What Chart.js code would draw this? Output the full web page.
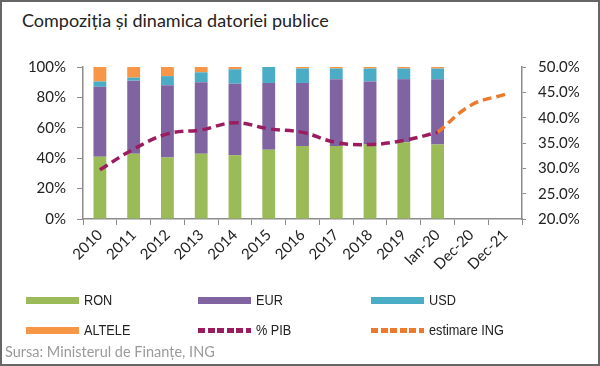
<!DOCTYPE html>
<html>
<head>
<meta charset="utf-8">
<script src="https://cdn.jsdelivr.net/npm/chart.js@4"></script>
<style>
  html, body { margin: 0; padding: 0; background: #fff; }
  #wrap { position: relative; width: 600px; height: 366px; box-sizing: border-box; border: 2px solid #666; overflow: hidden; }
  #title { position: absolute; left: 20px; top: 7px; font-family: Lato, sans-serif; font-size: 18px; color: #222; }
  canvas { position: absolute; left: -2px; top: -2px; }
  .leg { position: absolute; font-family: "Liberation Sans", Arial, sans-serif; font-size: 15.5px; color: #222;
         transform: scaleX(0.82); transform-origin: left center; white-space: nowrap; }
  .sw { position: absolute; width: 53px; height: 7px; }
  #src { position: absolute; left: 3px; top: 341px; font-family: Lato, sans-serif; font-size: 14.5px; color: #9a9a9a; }
</style>
</head>
<body>
<div id="wrap">
  <div id="title">Compoziția și dinamica datoriei publice</div>
  <canvas id="chart-area" width="600" height="366"></canvas>
  <div id="legend"></div>
  <div id="src">Sursa: Ministerul de Finanțe, ING</div>
</div>
<script>
var labels = ["2010", "2011", "2012", "2013", "2014", "2015", "2016", "2017", "2018", "2019", "Ian-20", "Dec-20", "Dec-21"];
var ron    = [41, 43, 40.5, 43, 42, 45.5, 48, 48, 49, 50.5, 49, null, null];
var eur    = [46, 48, 47.5, 47, 47, 44, 41.5, 44, 41.5, 41.5, 43, null, null];
var usd    = [3.5, 2, 6, 6.5, 9.5, 10.5, 9.5, 7, 8.5, 7, 7, null, null];
var altele = [9.5, 7, 6, 3.5, 1.5, 0, 1, 1, 1, 1, 1, null, null];
var pib    = [29.7, 33.8, 36.8, 37.6, 39.0, 37.8, 37.1, 35.1, 34.7, 35.5, 37.1, null, null];
var estimare = [null, null, null, null, null, null, null, null, null, null, 37.1, 42.5, 44.6];

var green = "#9bbb59", purple = "#8064a2", blue = "#4bacc6", orange = "#f79646";
var pibColor = "#9b1d5f", ingColor = "#ec7a2c";
var axisColor = "#8c8c8c";
var tickFont = { family: "Lato", size: 15 };

function bar(label, data, color) {
  return { type: 'bar', label: label, data: data, backgroundColor: color, yAxisID: 'y', order: 1,
           barPercentage: 0.38, categoryPercentage: 1 };
}
function line(label, data, color) {
  return { type: 'line', label: label, data: data, borderColor: color, backgroundColor: color,
           borderWidth: 3.5, borderDash: [9, 5], tension: 0.4, pointRadius: 0, yAxisID: 'y1', order: 0,
           spanGaps: false };
}

var config = {
  type: 'bar',
  data: {
    labels: labels,
    datasets: [
      bar("RON", ron, green),
      bar("EUR", eur, purple),
      bar("USD", usd, blue),
      bar("ALTELE", altele, orange),
      line("% PIB", pib, pibColor),
      line("estimare ING", estimare, ingColor)
    ]
  },
  options: {
    responsive: false,
    animation: false,
    layout: { padding: { top: 67, bottom: 75, left: 0, right: 0 } },
    plugins: { legend: { display: false }, tooltip: { enabled: false } },
    scales: {
      x: {
        stacked: true,
        grid: { drawOnChartArea: false, tickLength: 6, color: axisColor, offset: true },
        border: { color: axisColor, width: 1.5 },
        ticks: { color: "#222", font: tickFont, maxRotation: 45, minRotation: 45, padding: 1 },
        afterFit: function(s) { s.height = 72; }
      },
      y: {
        stacked: true, min: 0, max: 100,
        grid: { drawOnChartArea: false, tickLength: 6, color: axisColor },
        border: { color: axisColor, width: 1.5 },
        ticks: { stepSize: 20, color: "#222", font: tickFont, padding: 11,
                 callback: function(v) { return v + "%"; } },
        afterFit: function(s) { s.width = 83; }
      },
      y1: {
        position: 'right', min: 20, max: 50,
        grid: { drawOnChartArea: false, tickLength: 4, color: axisColor },
        border: { color: axisColor, width: 1.5 },
        ticks: { stepSize: 5, color: "#222", font: tickFont, padding: 12,
                 callback: function(v) { return v.toFixed(1) + "%"; } },
        afterFit: function(s) { s.width = 78; }
      }
    }
  }
};

var legendItems = [
  { text: "RON", color: green, x: 24, y: 289 },
  { text: "EUR", color: purple, x: 196, y: 289 },
  { text: "USD", color: blue, x: 369, y: 289 },
  { text: "ALTELE", color: orange, x: 24, y: 319 },
  { text: "% PIB", color: pibColor, x: 196, y: 319, dash: true },
  { text: "estimare ING", color: ingColor, x: 369, y: 319, dash: true }
];

window.onload = function() {
  var ctx = document.getElementById("chart-area").getContext("2d");
  window.myChart = new Chart(ctx, config);

  var html = "";
  legendItems.forEach(function(it) {
    var bg = it.dash
      ? "repeating-linear-gradient(90deg," + it.color + " 0 7px, transparent 7px 9.5px)"
      : it.color;
    var h = it.dash ? 5 : 7;
    html += '<div class="sw" style="left:' + it.x + 'px;top:' + (it.y + 9 - h / 2) + 'px;height:' + h + 'px;background:' + bg + '"></div>';
    html += '<div class="leg" style="left:' + (it.x + 58) + 'px;top:' + it.y + 'px">' + it.text + '</div>';
  });
  document.getElementById("legend").innerHTML = html;
};
</script>
</body>
</html>
